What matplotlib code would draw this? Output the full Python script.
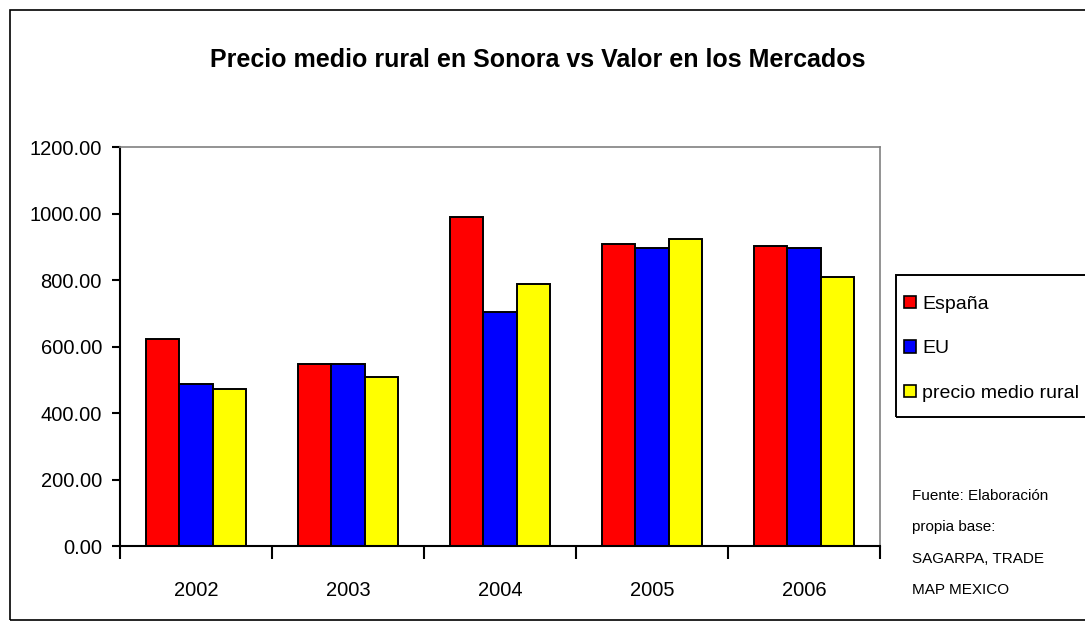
import matplotlib
matplotlib.use("Agg")
import matplotlib.pyplot as plt
import numpy as np
from matplotlib.patches import Rectangle

years = ["2002", "2003", "2004", "2005", "2006"]
espana = [623, 548, 991, 910, 904]
eu = [488, 548, 703, 898, 898]
precio_rural = [474, 509, 790, 925, 811]
series_names = ["España", "EU", "precio medio rural"]
colors = ["#FF0000", "#0000FF", "#FFFF00"]
yticks = [0, 200, 400, 600, 800, 1000, 1200]

plt.rcParams['font.family'] = ['Liberation Sans', 'DejaVu Sans']

fig = plt.figure(figsize=(10.85, 6.3), dpi=100)
W, H = 1085, 630
ax = fig.add_axes([120 / W, 1 - 546 / H, 760 / W, 398.7 / H])

x = np.arange(len(years))
bw = 0.22
for i, (vals, c, n) in enumerate(zip([espana, eu, precio_rural], colors, series_names)):
    ax.bar(x + (i - 1) * bw, vals, width=bw, color=c, edgecolor="black", linewidth=1.4, label=n)

ax.set_xlim(-0.5, len(years) - 0.5)
ax.set_ylim(0, 1200)
ax.set_yticks(yticks)
ax.set_yticklabels([f"{v:.2f}" for v in yticks], fontsize=14.5)
ax.set_xticks(x)
ax.set_xticklabels(years, fontsize=14.5)
ax.set_xticks(np.arange(len(years) + 1) - 0.5, minor=True)
ax.tick_params(axis="x", which="major", length=0, pad=25)
ax.tick_params(axis="x", which="minor", length=9, width=1.5, direction="out")
ax.tick_params(axis="y", length=6, width=1.5, direction="out", pad=7)
for s in ["top", "right"]:
    ax.spines[s].set_color("#808080")
    ax.spines[s].set_linewidth(1.2)
for s in ["left", "bottom"]:
    ax.spines[s].set_color("black")
    ax.spines[s].set_linewidth(1.5)

fig.text(0.5 * (218 + 858) / W, 1 - 60 / H, "Precio medio rural en Sonora vs Valor en los Mercados",
         ha="center", va="center", fontsize=18, fontweight="bold")

leg = fig.legend(loc="upper left", bbox_to_anchor=(898 / W, 1 - 290 / H), frameon=False,
                 fontsize=14, handlelength=0.6, handleheight=0.6, handletextpad=0.35,
                 borderaxespad=0, borderpad=0.3, labelspacing=1.42)
for h in leg.legend_handles:
    h.set_linewidth(1.2)

fig.patches.append(Rectangle((896 / W, 1 - 417 / H), 200 / W, 142 / H,
                             transform=fig.transFigure, fill=False, edgecolor="black", linewidth=1.4))

fig.text(912 / W, 1 - 543 / H, "Fuente: Elaboración\npropia base:\nSAGARPA, TRADE\nMAP MEXICO",
         ha="left", va="center", fontsize=11, linespacing=2.6)

fig.patches.append(Rectangle((10 / W, 10 / H), 1 - 10 / W + 0.01, 1 - 20 / H,
                             transform=fig.transFigure, fill=False, edgecolor="black", linewidth=1.2))

fig.savefig("out.png", dpi=100)
